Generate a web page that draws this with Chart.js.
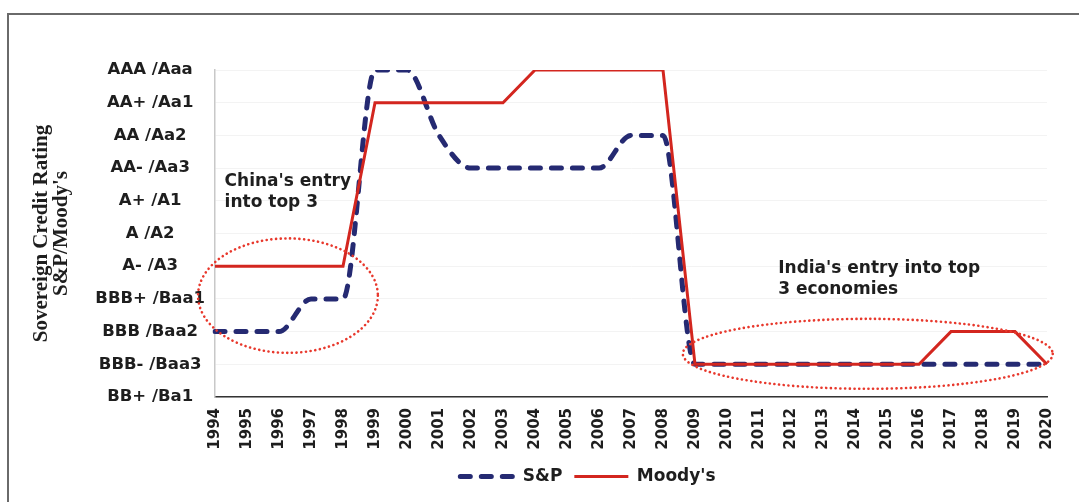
<!DOCTYPE html>
<html>
<head>
<meta charset="utf-8">
<script src="https://cdn.jsdelivr.net/npm/chart.js@4/dist/chart.umd.min.js"></script>
<style>
    body { margin: 0; background: #fff; }
    #wrap { position: relative; width: 1079px; height: 502px; }
    #frame { position: absolute; left: 7px; top: 13px; right: -5px; bottom: -5px; border-top: 2px solid #6a6a6a; border-left: 2px solid #6a6a6a; pointer-events: none; }
</style>
</head>
<body>
<div id="wrap">
    <canvas id="myChart" width="1079" height="502"></canvas>
    <div id="frame"></div>
</div>
<script>
const years = ['1994', '1995', '1996', '1997', '1998', '1999', '2000', '2001', '2002', '2003', '2004', '2005', '2006', '2007', '2008', '2009', '2010', '2011', '2012', '2013', '2014', '2015', '2016', '2017', '2018', '2019', '2020']
const ratingLabels = ['BB+ /Ba1', 'BBB- /Baa3', 'BBB /Baa2', 'BBB+ /Baa1', 'A- /A3', 'A /A2', 'A+ /A1', 'AA- /Aa3', 'AA /Aa2', 'AA+ /Aa1', 'AAA /Aaa']
// rating index: 0 = BB+/Ba1 ... 10 = AAA/Aaa
const spRatings = [2, 2, 2, 3, 3, 10, 10, 8, 7, 7, 7, 7, 7, 8, 8, 1, 1, 1, 1, 1, 1, 1, 1, 1, 1, 1, 1]
const moodysRatings = [4, 4, 4, 4, 4, 9, 9, 9, 9, 9, 10, 10, 10, 10, 10, 1, 1, 1, 1, 1, 1, 1, 1, 2, 2, 2, 1]

// dotted ellipses: [center index, center rating, x radius (index), y radius (rating)]
const chinaEllipse = [2.28, 3.1, 2.81, 1.75]
const indiaEllipse = [20.4, 1.32, 5.78, 1.07]
// notes: [index, rating, lines]
const chinaNote = [0.3, 6.6, ["China's entry", 'into top 3']]
const indiaNote = [17.6, 3.93, ["India's entry into top", '3 economies']]

const sans = '"DejaVu Sans", Arial, sans-serif'
const ctx = document.getElementById('myChart')

const notesPlugin = {
    id: 'notes',
    afterLayout(chart) {
        // the legend sits a bit right of the canvas centre in the original
        chart.legend.left += 49
        chart.legend.right += 49
    },
    afterDatasetsDraw(chart) {
        const c = chart.ctx
        const x = chart.scales.x
        const y = chart.scales.y
        const drawEllipse = (e) => {
            const cx = x.getPixelForValue(e[0])
            const cy = y.getPixelForValue(e[1])
            const rx = Math.abs(x.getPixelForValue(e[0] + e[2]) - cx)
            const ry = Math.abs(y.getPixelForValue(e[1] + e[3]) - cy)
            c.save()
            c.strokeStyle = '#e8382c'
            c.lineWidth = 2.6
            c.lineCap = 'round'
            c.setLineDash([0.1, 4.6])
            c.beginPath()
            c.ellipse(cx, cy, rx, ry, 0, 0, Math.PI * 2)
            c.stroke()
            c.restore()
        }
        const drawNote = (n) => {
            c.save()
            c.font = 'bold 17px ' + sans
            c.fillStyle = '#1e1e1e'
            c.textBaseline = 'middle'
            const px = x.getPixelForValue(n[0])
            const py = y.getPixelForValue(n[1])
            n[2].forEach((line, i) => c.fillText(line, px, py + i * 21))
            c.restore()
        }
        drawEllipse(chinaEllipse)
        drawEllipse(indiaEllipse)
        drawNote(chinaNote)
        drawNote(indiaNote)
    }
}

const myChart = new Chart(ctx, {
    type: 'line',
    data: {
        labels: years,
        datasets: [
            {
                label: 'S&P',
                data: spRatings,
                borderColor: '#252a72',
                backgroundColor: '#252a72',
                borderWidth: 5,
                borderDash: [10, 11],
                borderCapStyle: 'round',
                cubicInterpolationMode: 'monotone',
                pointRadius: 0,
                order: 1,
            },
            {
                label: "Moody's",
                data: moodysRatings,
                borderColor: '#d3261f',
                backgroundColor: '#d3261f',
                borderWidth: 3,
                tension: 0,
                pointRadius: 0,
                order: 0,
            },
        ],
    },
    options: {
        responsive: false,
        animation: false,
        layout: { padding: { left: 31, right: 32, top: 70, bottom: 7 } },
        plugins: {
            legend: {
                position: 'bottom',
                labels: {
                    usePointStyle: true,
                    pointStyle: 'line',
                    pointStyleWidth: 54,
                    color: '#1e1e1e',
                    padding: 12,
                    font: { family: sans, size: 17, weight: 'bold' },
                    sort: (a, b) => a.datasetIndex - b.datasetIndex,
                    generateLabels: (chart) => {
                        const items = Chart.defaults.plugins.legend.labels.generateLabels(chart)
                        items.forEach((item) => {
                            const ds = chart.data.datasets[item.datasetIndex]
                            item.lineDash = ds.borderDash || []
                            item.lineCap = ds.borderCapStyle || 'butt'
                        })
                        return items
                    },
                },
            },
            tooltip: { enabled: false },
        },
        scales: {
            x: {
                grid: { display: false, drawTicks: false },
                border: { color: '#333', width: 1.5 },
                ticks: {
                    minRotation: 90,
                    maxRotation: 90,
                    padding: 11,
                    color: '#1e1e1e',
                    font: { family: sans, size: 15, weight: 'bold' },
                },
                afterFit: (scale) => { scale.height = 59 },
            },
            y: {
                min: 0,
                max: 10,
                grid: { color: '#f3f3f3', drawTicks: false },
                border: { color: '#c8c8c8', width: 1.5 },
                ticks: {
                    stepSize: 1,
                    padding: 10,
                    crossAlign: 'center',
                    color: '#1e1e1e',
                    font: { family: sans, size: 16.5, weight: 'bold' },
                    callback: (v) => ratingLabels[v],
                },
                title: {
                    display: true,
                    text: ['Sovereign Credit Rating', "S&P/Moody's"],
                    color: '#1e1e1e',
                    padding: 0,
                    font: { family: '"Liberation Serif", "Times New Roman", serif', size: 21, weight: 'bold', lineHeight: 0.97 },
                },
                afterFit: (scale) => { scale.width = 184 },
            },
        },
    },
    plugins: [notesPlugin],
})
</script>
</body>
</html>
